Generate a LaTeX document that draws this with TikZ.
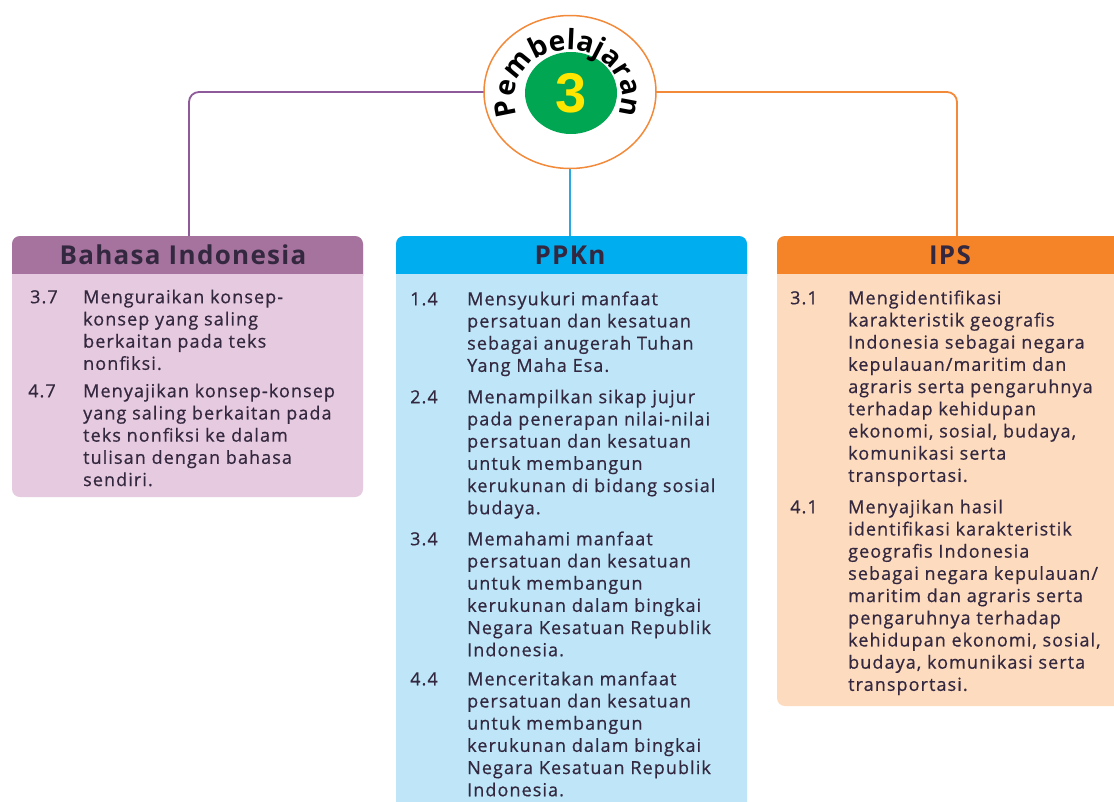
\documentclass[tikz,border=0pt]{standalone}
\usepackage{fontspec}
\setmainfont{Open Sans}[LetterSpace=6, FakeBold=0.6]
\newfontfamily\hdrfont{Open Sans}[LetterSpace=5]
\newfontfamily\arcfont{Open Sans}[LetterSpace=4]
\newfontfamily\digitfont{Liberation Sans}
\usetikzlibrary{shapes.geometric,decorations.text}
\definecolor{bihd}{HTML}{A6739F}
\definecolor{bibd}{HTML}{E6CADF}
\definecolor{pphd}{HTML}{00AEEF}
\definecolor{ppbd}{HTML}{BEE6F8}
\definecolor{iphd}{HTML}{F58428}
\definecolor{ipbd}{HTML}{FDDBBF}
\definecolor{conpu}{HTML}{8E5A9A}
\definecolor{conbl}{HTML}{2AA9E0}
\definecolor{conor}{HTML}{F28A3A}
\definecolor{grn}{HTML}{00A651}
\definecolor{yel}{HTML}{FFE600}
\definecolor{txt}{HTML}{33283F}
\begin{document}
\begin{tikzpicture}[x=1pt,y=1pt,
  boxsh/.style={rectangle, rounded corners=8pt, inner sep=0pt, outer sep=0pt, anchor=north west},
  hdr/.style={inner sep=0pt, text=txt, font=\hdrfont\fontsize{26}{28}\selectfont\bfseries},
  item/.style={anchor=north west, inner sep=0pt, align=left, text=txt, font=\fontsize{18}{22.2}\selectfont},
  con/.style={line width=1.8pt, rounded corners=10pt}]
\useasboundingbox (0,0) rectangle (1114,-801);
\clip (0,0) rectangle (1114,-801);
\fill[white] (0,0) rectangle (1114,-801);

% boxes
\node[boxsh, fill=bibd, minimum width=351pt, minimum height=261pt] (bibox) at (12,-236) {};
\node[boxsh, fill=ppbd, minimum width=351pt, minimum height=600pt] (ppbox) at (396,-236) {};
\node[boxsh, fill=ipbd, minimum width=345pt, minimum height=470pt] (ipbox) at (777,-236) {};
\foreach \b/\h/\d in {bibox/bihd/bibd, ppbox/pphd/ppbd, ipbox/iphd/ipbd}{
  \fill[\h, rounded corners=8pt] (\b.north west) rectangle ([yshift=-48pt]\b.north east);
  \fill[\d] ([yshift=-38pt]\b.north west) rectangle ([yshift=-50pt]\b.north east);
}
\node[hdr] (bihead) at (183,-255) {Bahasa Indonesia};
\node[hdr] (pphead) at (570,-255) {PPKn};
\node[hdr] (iphead) at (950,-255) {IPS};

% connectors
\node[ellipse, minimum width=172pt, minimum height=153pt, inner sep=0pt] (circ) at (570,-92) {};
\coordinate (ipjoin) at (957,-236);
\coordinate (bijoin) at (189,-236);
\draw[con, conpu] (circ.west) -| (bijoin);
\draw[con, conor] (circ.east) -| (ipjoin);
\draw[con, conbl] (circ.south) -- (circ.south |- ppbox.north);

% circle
\node[ellipse, draw=conor, line width=1.5pt, fill=white, minimum width=172pt, minimum height=153pt, inner sep=0pt] at (circ.center) {};
\node[ellipse, fill=grn, minimum width=92pt, minimum height=82pt, inner sep=0pt] (num3) at (571,-93)
  {\digitfont\fontsize{56}{56}\selectfont\bfseries\color{yel}3};
\path[decorate, decoration={text along path, text align=center, text format delimiters={|}{|},
  text={|\arcfont\fontsize{28}{28}\selectfont\bfseries|Pembelajaran}}]
  (568,-98) ++(220:54 and 48) arc[start angle=220, end angle=-40, x radius=54, y radius=48];

% Bahasa Indonesia
\node[item] (bi37n) at (30,-287.5) {\strut 3.7};
\node[item] (bi37) at (83,-287.5) {\strut Menguraikan konsep-\\konsep yang saling\\berkaitan pada teks\\nonfiksi.};
\node[item] (bi47n) at (28,-381.5) {\strut 4.7};
\node[item] (bi47) at (83,-381.5) {\strut Menyajikan konsep-konsep\\yang saling berkaitan pada\\teks nonfiksi ke dalam\\tulisan dengan bahasa\\sendiri.};

% PPKn
\node[item] (pp14n) at (410,-289.5) {\strut 1.4};
\node[item] (pp14) at (467,-289.5) {\strut Mensyukuri manfaat\\persatuan dan kesatuan\\sebagai anugerah Tuhan\\Yang Maha Esa.};
\node[item] (pp24n) at (410,-387.5) {\strut 2.4};
\node[item] (pp24) at (467,-387.5) {\strut Menampilkan sikap jujur\\pada penerapan nilai-nilai\\persatuan dan kesatuan\\untuk membangun\\kerukunan di bidang sosial\\budaya.};
\node[item] (pp34n) at (410,-529.5) {\strut 3.4};
\node[item] (pp34) at (467,-529.5) {\strut Memahami manfaat\\persatuan dan kesatuan\\untuk membangun\\kerukunan dalam bingkai\\Negara Kesatuan Republik\\Indonesia.};
\node[item] (pp44n) at (410,-669.5) {\strut 4.4};
\node[item] (pp44) at (467,-669.5) {\strut Menceritakan manfaat\\persatuan dan kesatuan\\untuk membangun\\kerukunan dalam bingkai\\Negara Kesatuan Republik\\Indonesia.};

% IPS
\node[item] (ip31n) at (790,-288.5) {\strut 3.1};
\node[item] (ip31) at (848,-288.5) {\strut Mengidentifikasi\\karakteristik geografis\\Indonesia sebagai negara\\kepulauan/maritim dan\\agraris serta pengaruhnya\\terhadap kehidupan\\ekonomi, sosial, budaya,\\komunikasi serta\\transportasi.};
\node[item] (ip41n) at (790,-497.5) {\strut 4.1};
\node[item] (ip41) at (848,-497.5) {\strut Menyajikan hasil\\identifikasi karakteristik\\geografis Indonesia\\sebagai negara kepulauan/\\maritim dan agraris serta\\pengaruhnya terhadap\\kehidupan ekonomi, sosial,\\budaya, komunikasi serta\\transportasi.};
\end{tikzpicture}
\end{document}
